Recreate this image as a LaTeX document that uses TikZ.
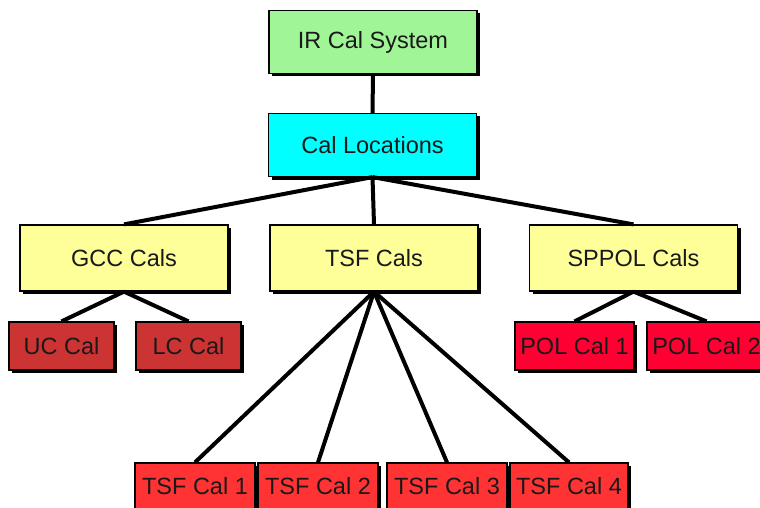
\documentclass[tikz,border=0pt]{standalone}
\usepackage{fontspec}
\setmainfont{Liberation Sans}
\usetikzlibrary{shadows}
\definecolor{topgreen}{RGB}{160,245,150}
\definecolor{loccyan}{RGB}{0,255,255}
\definecolor{grpyellow}{RGB}{255,255,153}
\definecolor{darkred}{RGB}{204,51,51}
\definecolor{polred}{RGB}{255,0,51}
\definecolor{tsfred}{RGB}{255,51,51}
\definecolor{inkgray}{RGB}{25,25,25}
\tikzset{
  calbox/.style={draw=black, line width=1.2pt, inner sep=0pt,
    text=inkgray, font=\fontsize{23.5}{26}\selectfont,
    drop shadow={shadow xshift=3pt, shadow yshift=-3pt, fill=black, opacity=1}},
  bigbox/.style={calbox, minimum width=208pt, minimum height=63pt},
  smallbox/.style={calbox, minimum height=48pt},
  link/.style={draw=black, line width=4pt}
}
\begin{document}
\begin{tikzpicture}[x=1pt, y=-1pt]
\useasboundingbox (0,0) rectangle (760,508);
% top levels
\node[bigbox, fill=topgreen] (sys) at (373,42) {IR Cal System};
\node[bigbox, fill=loccyan] (loc) at (372.5,145) {Cal Locations};
% groups
\node[bigbox, fill=grpyellow, minimum height=66pt] (gcc) at (124,258) {GCC Cals};
\node[bigbox, fill=grpyellow, minimum height=66pt] (tsf) at (374,258) {TSF Cals};
\node[bigbox, fill=grpyellow, minimum height=66pt] (sppol) at (633.5,258) {SPPOL Cals};
% GCC leaves
\node[smallbox, fill=darkred, minimum width=105pt] (uc) at (61.5,346) {UC Cal};
\node[smallbox, fill=darkred, minimum width=105pt] (lc) at (188.5,346) {LC Cal};
% SPPOL leaves
\node[smallbox, fill=polred, minimum width=119pt] (pol1) at (574.5,346) {POL Cal 1};
\node[smallbox, fill=polred, minimum width=119pt] (pol2) at (706.5,346) {POL Cal 2};
% TSF leaves
\node[smallbox, fill=tsfred, minimum width=120pt] (t1) at (195,487) {\raisebox{3pt}{TSF Cal 1}};
\node[smallbox, fill=tsfred, minimum width=120pt] (t2) at (318,487) {\raisebox{3pt}{TSF Cal 2}};
\node[smallbox, fill=tsfred, minimum width=120pt] (t3) at (447,487) {\raisebox{3pt}{TSF Cal 3}};
\node[smallbox, fill=tsfred, minimum width=118pt] (t4) at (569,487) {\raisebox{3pt}{TSF Cal 4}};
% connectors
\draw[link] (sys.south) -- (loc.north);
\draw[link] (loc.south) -- (gcc.north);
\draw[link] (loc.south) -- (tsf.north);
\draw[link] (loc.south) -- (sppol.north);
\draw[link] (gcc.south) -- (uc.north);
\draw[link] (gcc.south) -- (lc.north);
\draw[link] (sppol.south) -- (pol1.north);
\draw[link] (sppol.south) -- (pol2.north);
\draw[link] (tsf.south) -- (t1.north);
\draw[link] (tsf.south) -- (t2.north);
\draw[link] (tsf.south) -- (t3.north);
\draw[link] (tsf.south) -- (t4.north);
\end{tikzpicture}
\end{document}
